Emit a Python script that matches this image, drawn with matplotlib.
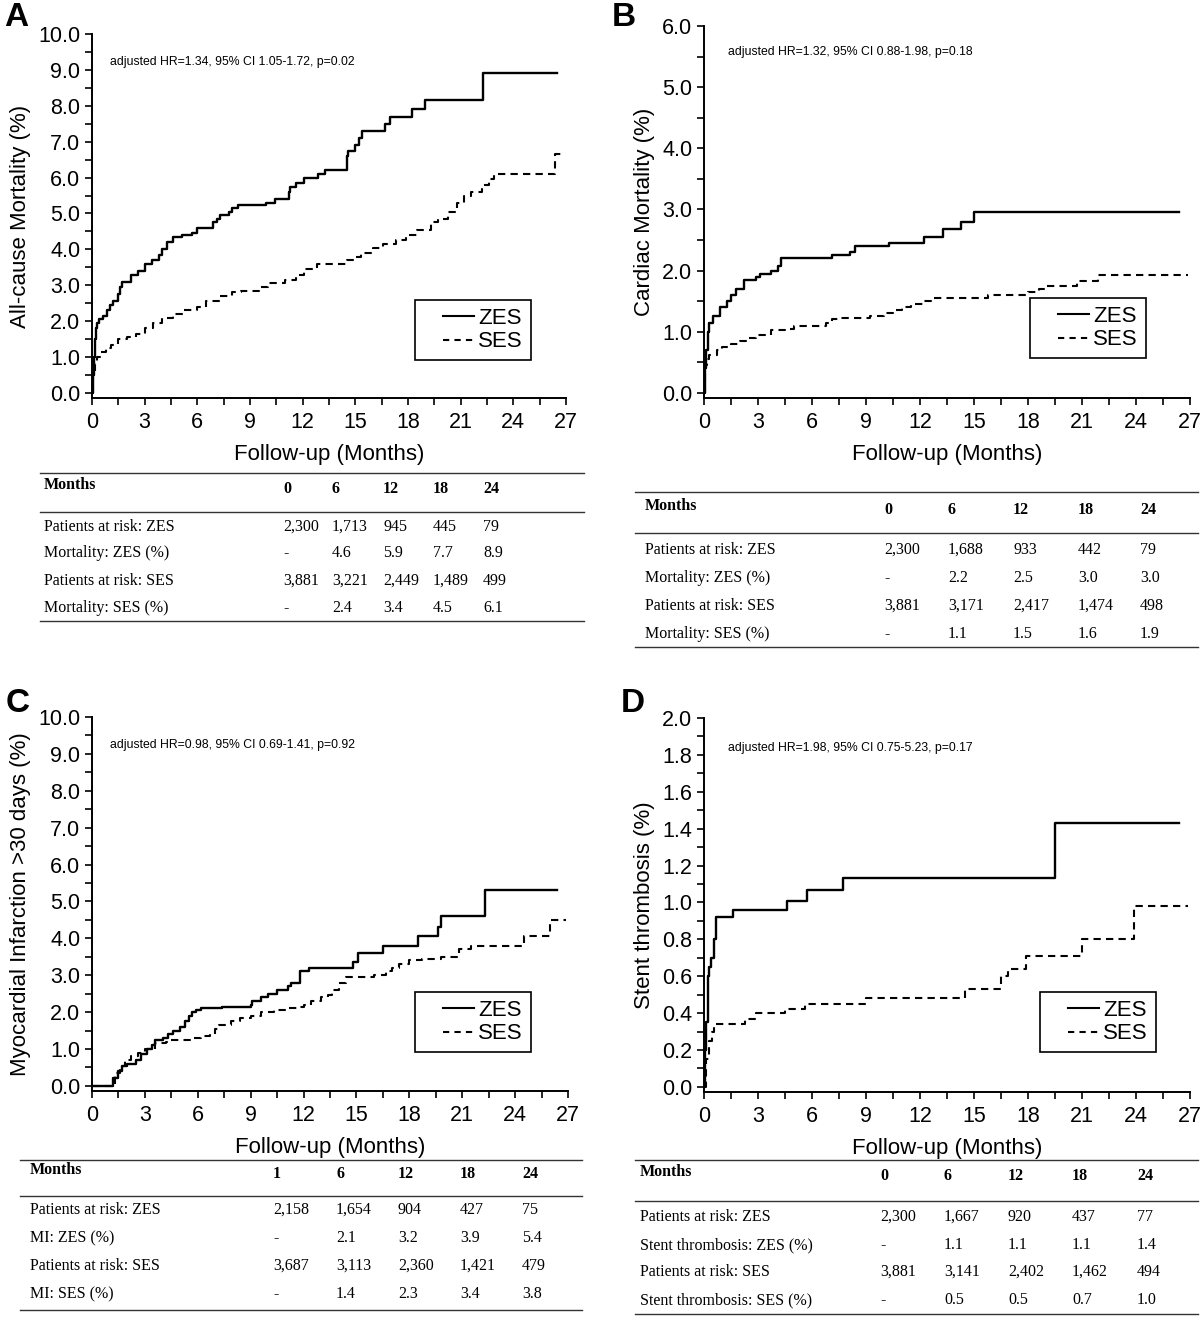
import matplotlib
matplotlib.use("Agg")
import matplotlib.pyplot as plt
from matplotlib.lines import Line2D
from matplotlib.legend_handler import HandlerLine2D
from matplotlib.ticker import MultipleLocator, FormatStrFormatter

W, H = 1200, 1343
SANS = ["Liberation Sans", "DejaVu Sans"]
SERIF = ["Liberation Serif", "DejaVu Serif"]

# ---- curve data (months, cumulative %) ----
aZ_t = [0, 0.05, 0.1, 0.15, 0.2, 0.3, 0.4, 0.6, 0.85, 1.0, 1.2, 1.5, 1.6, 1.7, 2.2, 2.6, 3.0, 3.4, 3.8, 4.0,
        4.3, 4.6, 5.1, 5.7, 6.0, 6.9, 7.1, 7.3, 7.8, 8.0, 8.3, 9.9, 10.4, 11.2, 11.3, 11.6, 12.1, 12.9, 13.3, 14.5,
        14.6, 15.0, 15.2, 15.4, 16.7, 17.0, 18.2, 18.95, 22.3, 26.5]
aZ_v = [0, 0.5, 1.0, 1.5, 1.8, 1.95, 2.05, 2.15, 2.3, 2.45, 2.55, 2.75, 2.95, 3.1, 3.3, 3.4, 3.6, 3.7, 3.85, 4.0,
        4.2, 4.35, 4.4, 4.45, 4.6, 4.75, 4.85, 4.95, 5.05, 5.15, 5.25, 5.3, 5.4, 5.6, 5.75, 5.85, 6.0, 6.1, 6.2, 6.6,
        6.75, 6.9, 7.1, 7.3, 7.5, 7.7, 7.9, 8.15, 8.9, 8.9]
aS_t = [0, 0.05, 0.15, 0.3, 0.5, 0.8, 1.1, 1.5, 2.0, 2.5, 3.0, 3.5, 4.0, 4.6, 5.2, 6.0, 6.5, 7.3, 8.0, 8.5,
        9.5, 10.0, 11.0, 11.6, 12.1, 12.8, 14.5, 14.9, 15.3, 16.0, 16.6, 17.3, 17.9, 18.5, 19.3, 19.7, 20.3, 20.8,
        21.2, 21.6, 22.2, 22.6, 22.9, 26.35, 26.9]
aS_v = [0, 0.5, 0.8, 1.0, 1.15, 1.25, 1.35, 1.5, 1.55, 1.65, 1.8, 1.95, 2.1, 2.2, 2.3, 2.4, 2.55, 2.7, 2.8, 2.85,
        2.95, 3.05, 3.15, 3.3, 3.45, 3.6, 3.7, 3.8, 3.9, 4.05, 4.15, 4.25, 4.4, 4.55, 4.75, 4.85, 5.05, 5.3,
        5.5, 5.6, 5.8, 5.95, 6.1, 6.65, 6.65]

bZ_t = [0, 0.05, 0.1, 0.2, 0.3, 0.5, 0.9, 1.3, 1.5, 1.8, 2.2, 2.9, 3.1, 3.7, 4.1, 4.3, 7.1, 8.1, 8.4, 10.3,
        12.2, 13.3, 14.3, 15.0, 26.4]
bZ_v = [0, 0.4, 0.7, 1.0, 1.15, 1.25, 1.4, 1.5, 1.6, 1.7, 1.85, 1.9, 1.95, 2.0, 2.08, 2.2, 2.25, 2.3, 2.4, 2.45,
        2.55, 2.68, 2.8, 2.95, 2.95]
bS_t = [0, 0.05, 0.15, 0.3, 0.7, 1.0, 1.5, 2.0, 2.4, 2.9, 3.7, 4.5, 5.0, 6.8, 7.1, 7.5, 9.2, 10.0, 10.5, 11.0,
        11.5, 12.2, 12.6, 15.8, 18.0, 18.6, 19.0, 20.7, 21.9, 26.9]
bS_v = [0, 0.45, 0.55, 0.62, 0.7, 0.75, 0.8, 0.85, 0.9, 0.95, 1.02, 1.05, 1.1, 1.15, 1.2, 1.22, 1.25, 1.3, 1.35, 1.4,
        1.45, 1.5, 1.55, 1.6, 1.65, 1.7, 1.75, 1.83, 1.93, 1.93]

cZ_t = [0, 1.0, 1.2, 1.5, 1.7, 2.0, 2.5, 2.8, 3.1, 3.4, 3.6, 4.0, 4.3, 4.6, 5.0, 5.3, 5.5, 5.7, 5.9, 6.2,
        7.4, 9.0, 9.1, 9.6, 10.0, 10.5, 11.1, 11.3, 11.8, 12.3, 14.8, 15.1, 16.5, 18.5, 19.6, 19.8, 22.3, 26.4]
cZ_v = [0, 0, 0.2, 0.4, 0.55, 0.6, 0.7, 0.85, 1.0, 1.1, 1.25, 1.3, 1.4, 1.5, 1.6, 1.75, 1.9, 2.0, 2.05, 2.1,
        2.15, 2.2, 2.3, 2.4, 2.5, 2.6, 2.7, 2.8, 3.1, 3.2, 3.35, 3.6, 3.8, 4.05, 4.3, 4.6, 5.3, 5.3]
cS_t = [0, 1.0, 1.3, 1.6, 1.9, 2.2, 2.6, 3.0, 3.6, 4.2, 4.5, 5.7, 6.2, 6.7, 7.0, 7.2, 7.9, 8.4, 9.0, 9.6,
        10.3, 11.0, 11.6, 12.0, 12.4, 13.0, 13.4, 13.6, 14.0, 14.4, 16.0, 16.7, 17.0, 17.4, 18.0, 18.7, 19.8, 20.8,
        21.5, 24.5, 26.0, 26.9]
cS_v = [0, 0, 0.35, 0.55, 0.7, 0.8, 0.9, 1.0, 1.15, 1.2, 1.25, 1.3, 1.35, 1.4, 1.55, 1.65, 1.75, 1.85, 1.9, 2.0,
        2.05, 2.1, 2.15, 2.2, 2.3, 2.4, 2.45, 2.6, 2.8, 2.95, 3.0, 3.1, 3.2, 3.3, 3.4, 3.45, 3.5, 3.7,
        3.8, 4.05, 4.5, 4.5]

dZ_t = [0, 0.05, 0.1, 0.2, 0.3, 0.4, 0.55, 0.65, 1.6, 4.6, 5.7, 7.7, 19.5, 26.4]
dZ_v = [0, 0.2, 0.35, 0.6, 0.65, 0.7, 0.8, 0.92, 0.96, 1.01, 1.07, 1.13, 1.43, 1.43]
dS_t = [0, 0.1, 0.25, 0.45, 0.55, 2.3, 2.9, 4.5, 5.6, 9.0, 14.5, 16.5, 16.9, 17.9, 21.0, 23.9, 26.9]
dS_v = [0, 0.15, 0.25, 0.3, 0.34, 0.37, 0.4, 0.42, 0.45, 0.48, 0.53, 0.6, 0.64, 0.71, 0.8, 0.98, 0.98]

# ---- tables ----
tabA_cols = ["0", "6", "12", "18", "24"]
tabA_labels = ["Patients at risk: ZES", "Mortality: ZES (%)", "Patients at risk: SES", "Mortality: SES (%)"]
tabA_vals = [["2,300", "1,713", "945", "445", "79"], ["-", "4.6", "5.9", "7.7", "8.9"],
             ["3,881", "3,221", "2,449", "1,489", "499"], ["-", "2.4", "3.4", "4.5", "6.1"]]
tabB_cols = ["0", "6", "12", "18", "24"]
tabB_labels = ["Patients at risk: ZES", "Mortality: ZES (%)", "Patients at risk: SES", "Mortality: SES (%)"]
tabB_vals = [["2,300", "1,688", "933", "442", "79"], ["-", "2.2", "2.5", "3.0", "3.0"],
             ["3,881", "3,171", "2,417", "1,474", "498"], ["-", "1.1", "1.5", "1.6", "1.9"]]
tabC_cols = ["1", "6", "12", "18", "24"]
tabC_labels = ["Patients at risk: ZES", "MI: ZES (%)", "Patients at risk: SES", "MI: SES (%)"]
tabC_vals = [["2,158", "1,654", "904", "427", "75"], ["-", "2.1", "3.2", "3.9", "5.4"],
             ["3,687", "3,113", "2,360", "1,421", "479"], ["-", "1.4", "2.3", "3.4", "3.8"]]
tabD_cols = ["0", "6", "12", "18", "24"]
tabD_labels = ["Patients at risk: ZES", "Stent thrombosis: ZES (%)", "Patients at risk: SES",
               "Stent thrombosis: SES (%)"]
tabD_vals = [["2,300", "1,667", "920", "437", "77"], ["-", "1.1", "1.1", "1.1", "1.4"],
             ["3,881", "3,141", "2,402", "1,462", "494"], ["-", "0.5", "0.5", "0.7", "1.0"]]

hr_texts = ["adjusted HR=1.34, 95% CI 1.05-1.72, p=0.02", "adjusted HR=1.32, 95% CI 0.88-1.98, p=0.18",
            "adjusted HR=0.98, 95% CI 0.69-1.41, p=0.92", "adjusted HR=1.98, 95% CI 0.75-5.23, p=0.17"]
ylabels = ["All-cause Mortality (%)", "Cardiac Mortality (%)", "Myocardial Infarction >30 days (%)",
           "Stent thrombosis (%)"]


def fx(x):
    return x / W


def fy(y):
    return 1 - y / H


fig = plt.figure(figsize=(12, 13.43), dpi=100)

# legend handle drawn only in the middle part of a wide slot (leaves room on the left like the original)
PAD = 0.9
leg_handler = HandlerLine2D(numpoints=2, marker_pad=PAD)


def km_panel(letter, letter_xy, rect, ymax, ystep, curves, ylabel, hr, hr_xy, leg_xy):
    l, r, t, b = rect
    ax = fig.add_axes([fx(l), fy(b), fx(r - l), (b - t) / H])
    zt, zv, st, sv = curves
    ax.step(zt, zv, where="post", color="black", lw=1.7)
    ax.step(st, sv, where="post", color="black", lw=1.5, linestyle=(0, (3.5, 2.5)))
    ax.set_xlim(0, 27)
    ax.set_ylim(-ymax * 0.014, ymax)
    ax.xaxis.set_major_locator(MultipleLocator(3))
    ax.xaxis.set_minor_locator(MultipleLocator(1.5))
    ax.yaxis.set_major_locator(MultipleLocator(ystep))
    ax.yaxis.set_minor_locator(MultipleLocator(ystep / 2))
    ax.yaxis.set_major_formatter(FormatStrFormatter("%.1f"))
    for s in ("top", "right"):
        ax.spines[s].set_visible(False)
    for s in ("left", "bottom"):
        ax.spines[s].set_linewidth(1.4)
    ax.tick_params(which="both", direction="out", length=5, width=1.2, labelsize=15.5)
    ax.tick_params(axis="x", pad=5)
    for lab in ax.get_xticklabels() + ax.get_yticklabels():
        lab.set_family(SANS)
    ax.set_xlabel("Follow-up (Months)", fontsize=16, family=SANS, labelpad=8)
    ax.set_ylabel(ylabel, fontsize=16, family=SANS, labelpad=5)
    fig.text(fx(hr_xy[0]), fy(hr_xy[1]), hr, fontsize=8.8, family=SANS, va="center", ha="left")
    fig.text(fx(letter_xy[0]), fy(letter_xy[1]), letter, fontsize=24, weight="bold", family=SANS,
             va="center", ha="center")
    handles = [Line2D([], [], color="black", lw=1.5),
               Line2D([], [], color="black", lw=1.5, linestyle=(0, (3, 2.5)))]
    leg = ax.legend(handles, ["ZES", "SES"], loc="upper left", bbox_to_anchor=(fx(leg_xy[0]), fy(leg_xy[1])),
                    bbox_transform=fig.transFigure, fancybox=False, edgecolor="black", framealpha=1,
                    prop={"family": SANS, "size": 16}, handlelength=1.4 + 2 * PAD,
                    handletextpad=0.2 - PAD, labelspacing=0.12, borderpad=0.35, borderaxespad=0,
                    handler_map={Line2D: leg_handler})
    leg.get_frame().set_linewidth(1.2)
    return ax


def table(x0, x1, label_x, col_xs, top, head_y, mid, row_ys, bottom, cols, labels, vals):
    for yy in (top, mid, bottom):
        fig.add_artist(Line2D([fx(x0), fx(x1)], [fy(yy), fy(yy)], color="#333333", lw=1.0))
    fig.text(fx(label_x), fy(head_y - 4), "Months", fontsize=11.5, weight="bold", family=SERIF, va="center")
    for cx, c in zip(col_xs, cols):
        fig.text(fx(cx), fy(head_y), c, fontsize=11.5, weight="bold", family=SERIF, va="center")
    for ry, lab, row in zip(row_ys, labels, vals):
        fig.text(fx(label_x), fy(ry), lab, fontsize=11.5, family=SERIF, va="center")
        for cx, v in zip(col_xs, row):
            fig.text(fx(cx), fy(ry), v, fontsize=11.5, family=SERIF, va="center")


km_panel("A", (16, 17), (92, 566, 34, 398), 10.0, 1.0, (aZ_t, aZ_v, aS_t, aS_v), ylabels[0], hr_texts[0],
         (110, 62), (415, 300))
km_panel("B", (624, 17), (704, 1190, 26, 398), 6.0, 1.0, (bZ_t, bZ_v, bS_t, bS_v), ylabels[1], hr_texts[1],
         (728, 52), (1030, 298))
km_panel("C", (18, 703), (92, 568, 717, 1091), 10.0, 1.0, (cZ_t, cZ_v, cS_t, cS_v), ylabels[2], hr_texts[2],
         (110, 745), (415, 992))
km_panel("D", (633, 703), (704, 1190, 718, 1092), 2.0, 0.2, (dZ_t, dZ_v, dS_t, dS_v), ylabels[3], hr_texts[3],
         (728, 748), (1040, 992))

table(40, 584, 44, [283, 332, 383, 433, 483], 473, 489, 512, [527, 553, 581, 608], 621,
      tabA_cols, tabA_labels, tabA_vals)
table(635, 1198, 645, [884, 948, 1013, 1078, 1140], 492, 510, 533, [550, 578, 606, 634], 647,
      tabB_cols, tabB_labels, tabB_vals)
table(20, 582, 30, [273, 336, 398, 460, 522], 1160, 1174, 1196, [1210, 1238, 1266, 1294], 1310,
      tabC_cols, tabC_labels, tabC_vals)
table(635, 1198, 640, [880, 944, 1008, 1072, 1137], 1160, 1176, 1201, [1217, 1245, 1272, 1300], 1314,
      tabD_cols, tabD_labels, tabD_vals)

fig.savefig("out.png", dpi=100)
